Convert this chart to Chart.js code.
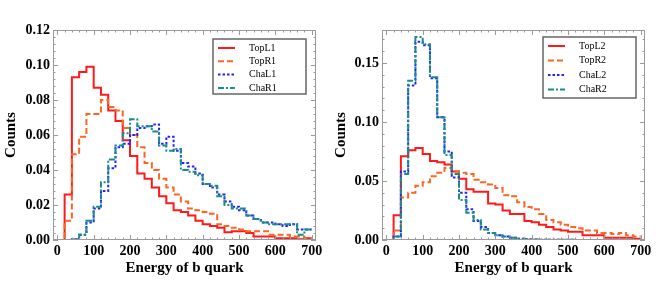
<!DOCTYPE html>
<html><head><meta charset="utf-8">
<script src="https://cdn.jsdelivr.net/npm/chart.js@4"></script>
<style>
html,body{margin:0;padding:0;background:#fff;}
#wrap{position:relative;width:667px;height:296px;background:#fff;}
#c1{position:absolute;left:0;top:0;width:330px;height:296px;}
#c2{position:absolute;left:330px;top:0;width:337px;height:296px;}
</style></head><body>
<div id="wrap"><canvas id="c1" width="330" height="296"></canvas><canvas id="c2" width="337" height="296"></canvas></div>
<script>
// ---- data (bin width 20, bins from 0 to 700) ----
const binWidth = 20;
const xTicks = [0,100,200,300,400,500,600,700];
const yTicksLeft = [0,0.02,0.04,0.06,0.08,0.10,0.12];
const yTicksRight = [0,0.05,0.10,0.15];

const labelsLeft = ['TopL1','TopR1','ChaL1','ChaR1'];
const labelsRight = ['TopL2','TopR2','ChaL2','ChaR2'];

const topL1 = [0,0.026,0.093,0.096,0.099,0.087,0.083,0.074,0.068,0.057,0.048,0.038,0.035,0.030,0.025,0.021,0.017,0.016,0.014,0.011,0.009,0.008,0.007,0.0045,0.005,0.005,0.004,0.002,0.002,0.002,0.001,0.001,0.001,0.0005,0.001];
const topR1 = [0,0.011,0.049,0.059,0.072,0.072,0.080,0.076,0.074,0.064,0.060,0.053,0.044,0.040,0.035,0.030,0.026,0.022,0.018,0.017,0.016,0.015,0.009,0.008,0.007,0.006,0.005,0.005,0.005,0.003,0.003,0.003,0.002,0.002,0.001];
const chaL1 = [0,0,0.0005,0.003,0.010,0.018,0.028,0.041,0.053,0.055,0.060,0.064,0.065,0.066,0.055,0.059,0.051,0.044,0.042,0.038,0.032,0.030,0.026,0.022,0.019,0.017,0.014,0.012,0.010,0.010,0.009,0.008,0.009,0.006,0.006];
const chaR1 = [0,0,0.0005,0.003,0.011,0.019,0.033,0.046,0.054,0.061,0.069,0.065,0.065,0.062,0.054,0.051,0.052,0.040,0.039,0.037,0.032,0.031,0.025,0.020,0.018,0.018,0.014,0.012,0.010,0.009,0.009,0.009,0.009,0.003,0.006];

const topL2 = [0,0.021,0.071,0.076,0.078,0.073,0.067,0.066,0.064,0.058,0.052,0.043,0.041,0.041,0.031,0.030,0.025,0.022,0.022,0.016,0.015,0.013,0.011,0.009,0.008,0.007,0.007,0.004,0.004,0.004,0.002,0.002,0.002,0.002,0.001];
const topR2 = [0,0.008,0.036,0.040,0.046,0.049,0.054,0.057,0.061,0.058,0.057,0.056,0.051,0.049,0.047,0.044,0.038,0.037,0.032,0.028,0.026,0.022,0.017,0.015,0.013,0.011,0.010,0.008,0.008,0.006,0.006,0.005,0.006,0.004,0.003];
const chaL2 = [0,0.003,0.058,0.131,0.168,0.165,0.137,0.104,0.075,0.053,0.040,0.026,0.016,0.011,0.006,0.004,0.003,0.002,0.001,0.0005,0.0004,0.0003,0.0003,0.0002,0.0002,0.0002,0.0001,0.0001,0.0001,0.0001,0.0001,0.0001,0.0001,0.0001,0.0001];
const chaR2 = [0,0.003,0.056,0.135,0.172,0.166,0.138,0.104,0.072,0.056,0.034,0.023,0.017,0.009,0.006,0.004,0.003,0.002,0.001,0.0008,0.0005,0.0003,0.0003,0.0002,0.0002,0.0002,0.0001,0.0001,0.0001,0.0001,0.0001,0.0001,0.0001,0.0001,0.0001];

// ---- styles ----
const FONT = "'Liberation Serif','DejaVu Serif',serif";
const styles = [
  {color:'#ff1a1a', dash:[], order:4},
  {color:'#ff6422', dash:[6,3], order:3},
  {color:'#2222ff', dash:[2.5,2], order:2},
  {color:'#1a8c8c', dash:[6,2,2,2], order:1}
];

function stepPoints(vals){
  const pts = vals.map((v,i)=>({x:i*binWidth, y:v}));
  pts.push({x:vals.length*binWidth, y:vals[vals.length-1]});
  return pts;
}

function makeDatasets(labels, series){
  return series.map((s,i)=>({
    label: labels[i],
    data: stepPoints(s),
    stepped: 'before',
    borderColor: styles[i].color,
    borderDash: styles[i].dash,
    borderWidth: 2,
    pointRadius: 0,
    fill: false,
    order: styles[i].order
  }));
}

const framePlugin = {
  id: 'frameTicks',
  afterDatasetsDraw(chart, args, opts){
    const {ctx, chartArea: a, scales:{x, y}} = chart;
    ctx.save();
    ctx.strokeStyle = '#9a9a9a';
    ctx.lineWidth = 1;
    ctx.setLineDash([]);
    ctx.strokeRect(a.left+0.5, a.top+0.5, a.right-a.left-1, a.bottom-a.top-1);
    ctx.beginPath();
    for (let v = 0; v <= 700.001; v += opts.xMinor){
      const px = Math.round(x.getPixelForValue(v))+0.5;
      const major = Math.abs(v/opts.xMajor - Math.round(v/opts.xMajor)) < 1e-6;
      const L = major ? 5 : 2.5;
      ctx.moveTo(px, a.bottom); ctx.lineTo(px, a.bottom-L);
      ctx.moveTo(px, a.top); ctx.lineTo(px, a.top+L);
    }
    for (let k = 0; k*opts.yMinor <= y.max+1e-9; k++){
      const v = k*opts.yMinor;
      const py = Math.round(y.getPixelForValue(v))+0.5;
      const major = Math.abs(v/opts.yMajor - Math.round(v/opts.yMajor)) < 1e-6;
      const L = major ? 5 : 2.5;
      ctx.moveTo(a.left, py); ctx.lineTo(a.left+L, py);
      ctx.moveTo(a.right, py); ctx.lineTo(a.right-L, py);
    }
    ctx.stroke();

    // legend box
    const lg = opts.legend;
    const bx = a.right - lg.right - lg.w, by = a.top + lg.top;
    ctx.fillStyle = '#fff';
    ctx.fillRect(bx, by, lg.w, lg.h);
    ctx.strokeStyle = '#666';
    ctx.lineWidth = 1.5;
    ctx.strokeRect(bx, by, lg.w, lg.h);
    ctx.font = "10px " + FONT;
    ctx.textBaseline = 'middle';
    ctx.textAlign = 'left';
    chart.data.datasets.forEach((ds, i)=>{
      const ry = by + lg.first + i*lg.step;
      ctx.beginPath();
      ctx.strokeStyle = ds.borderColor;
      ctx.lineWidth = 2;
      ctx.setLineDash(ds.borderDash);
      ctx.moveTo(bx+5, ry); ctx.lineTo(bx+22, ry);
      ctx.stroke();
      ctx.setLineDash([]);
      ctx.fillStyle = '#000';
      ctx.fillText(ds.label, bx+36, ry);
    });
    ctx.restore();
  }
};

function makeChart(id, labels, series, yMax, yTicks, yAxisW, padRight, tickOpts){
  return new Chart(document.getElementById(id), {
    type: 'line',
    data: { datasets: makeDatasets(labels, series) },
    plugins: [framePlugin],
    options: {
      responsive: false,
      animation: false,
      layout: { padding: { top: 30, right: padRight, left: 0, bottom: 0 } },
      plugins: {
        legend: { display: false },
        tooltip: { enabled: false },
        frameTicks: tickOpts
      },
      scales: {
        x: {
          type: 'linear', min: -12, max: 712,
          afterBuildTicks: s => { s.ticks = xTicks.map(v=>({value:v})); },
          afterFit: s => { s.height = 56; },
          grid: { display: false, drawTicks: false },
          border: { display: false },
          ticks: { color:'#000', font:{family:FONT, size:14, weight:'bold'}, padding: 3, maxRotation:0, autoSkip:false,
                   callback: v => String(v) },
          title: { display: true, text: 'Energy of b quark', color:'#000',
                   font:{family:FONT, size:15, weight:'bold'}, padding:{top:0, bottom:19} }
        },
        y: {
          type: 'linear', min: 0, max: yMax,
          afterBuildTicks: s => { s.ticks = yTicks.map(v=>({value:v})); },
          afterFit: s => { s.width = yAxisW; },
          grid: { display: false, drawTicks: false },
          border: { display: false },
          ticks: { color:'#000', font:{family:FONT, size:14, weight:'bold'}, padding: 3, autoSkip:false,
                   callback: v => Number(v).toFixed(2) },
          title: { display: true, text: 'Counts', color:'#000',
                   font:{family:FONT, size:15, weight:'bold'}, padding:{top:2, bottom:0} }
        }
      }
    }
  });
}

makeChart('c1', labelsLeft, [topL1, topR1, chaL1, chaR1], 0.12, yTicksLeft, 53, 14,
  { xMajor:100, xMinor:20, yMajor:0.02, yMinor:0.004,
    legend:{ right:10, top:9, w:93, h:55, first:9, step:13.3 } });
makeChart('c2', labelsRight, [topL2, topR2, chaL2, chaR2], 0.178, yTicksRight, 52, 22,
  { xMajor:100, xMinor:20, yMajor:0.05, yMinor:0.01,
    legend:{ right:9, top:7, w:93, h:61, first:9, step:14.5 } });
</script>
</body></html>
